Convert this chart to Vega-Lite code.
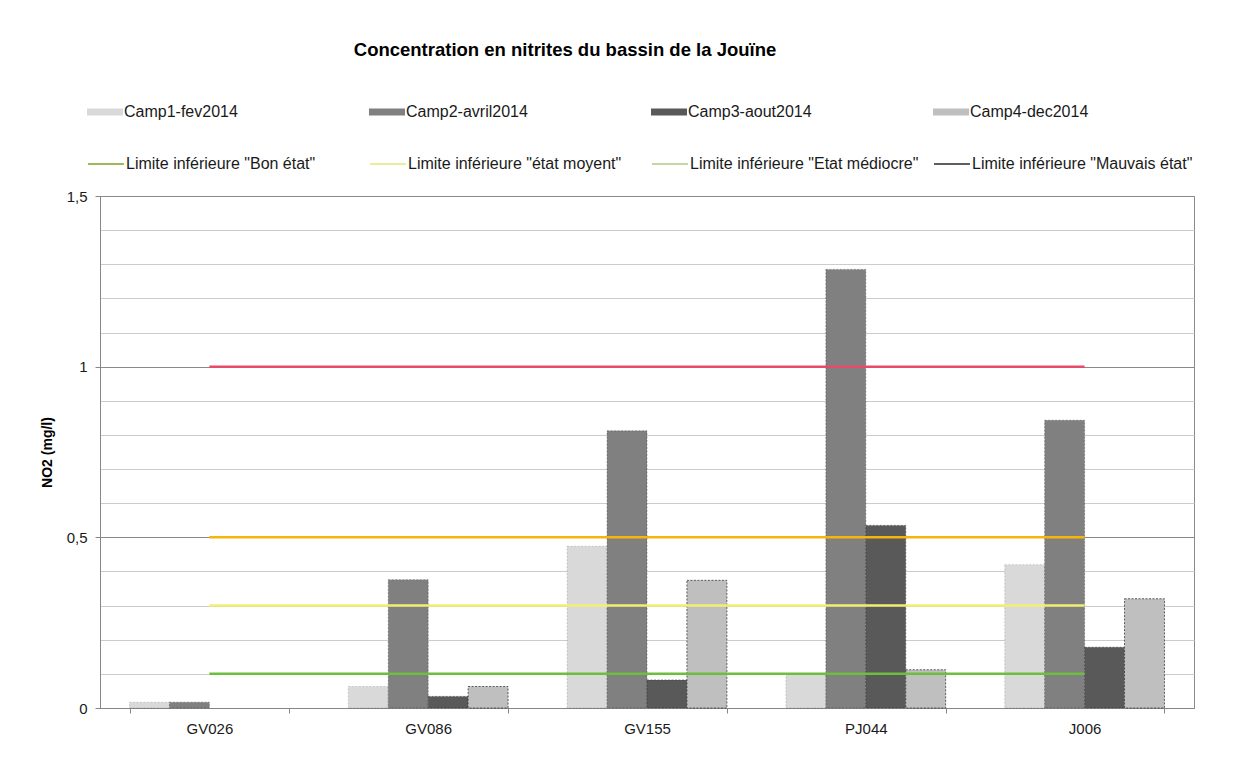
{
  "$schema": "https://vega.github.io/schema/vega-lite/v6.json",
  "autosize": {"type": "none"},
  "padding": {"left": 100, "top": 196, "right": 57, "bottom": 50},
  "width": 1094,
  "height": 512,
  "background": "white",
  "title": {
    "text": "Concentration en nitrites du bassin de la Jouïne",
    "font": "Liberation Sans",
    "fontSize": 18.5,
    "fontWeight": "bold",
    "color": "#000000",
    "anchor": "middle",
    "frame": "group",
    "dx": -82,
    "offset": 35
  },
  "datasets": {
    "mesures": [
      {"site": "GV026", "campagne": "Camp1-fev2014", "no2": 0.017},
      {"site": "GV026", "campagne": "Camp2-avril2014", "no2": 0.017},
      {"site": "GV086", "campagne": "Camp1-fev2014", "no2": 0.063},
      {"site": "GV086", "campagne": "Camp2-avril2014", "no2": 0.376},
      {"site": "GV086", "campagne": "Camp3-aout2014", "no2": 0.034},
      {"site": "GV086", "campagne": "Camp4-dec2014", "no2": 0.063},
      {"site": "GV155", "campagne": "Camp1-fev2014", "no2": 0.474},
      {"site": "GV155", "campagne": "Camp2-avril2014", "no2": 0.812},
      {"site": "GV155", "campagne": "Camp3-aout2014", "no2": 0.082},
      {"site": "GV155", "campagne": "Camp4-dec2014", "no2": 0.374},
      {"site": "PJ044", "campagne": "Camp1-fev2014", "no2": 0.1},
      {"site": "PJ044", "campagne": "Camp2-avril2014", "no2": 1.285},
      {"site": "PJ044", "campagne": "Camp3-aout2014", "no2": 0.535},
      {"site": "PJ044", "campagne": "Camp4-dec2014", "no2": 0.112},
      {"site": "J006", "campagne": "Camp1-fev2014", "no2": 0.42},
      {"site": "J006", "campagne": "Camp2-avril2014", "no2": 0.843},
      {"site": "J006", "campagne": "Camp3-aout2014", "no2": 0.178},
      {"site": "J006", "campagne": "Camp4-dec2014", "no2": 0.32}
    ],
    "limites": [
      {"site": "GV026", "limite": "Limite inférieure \"Bon état\"", "seuil": 0.1},
      {"site": "GV086", "limite": "Limite inférieure \"Bon état\"", "seuil": 0.1},
      {"site": "GV155", "limite": "Limite inférieure \"Bon état\"", "seuil": 0.1},
      {"site": "PJ044", "limite": "Limite inférieure \"Bon état\"", "seuil": 0.1},
      {"site": "J006", "limite": "Limite inférieure \"Bon état\"", "seuil": 0.1},
      {"site": "GV026", "limite": "Limite inférieure \"état moyent\"", "seuil": 0.3},
      {"site": "GV086", "limite": "Limite inférieure \"état moyent\"", "seuil": 0.3},
      {"site": "GV155", "limite": "Limite inférieure \"état moyent\"", "seuil": 0.3},
      {"site": "PJ044", "limite": "Limite inférieure \"état moyent\"", "seuil": 0.3},
      {"site": "J006", "limite": "Limite inférieure \"état moyent\"", "seuil": 0.3},
      {"site": "GV026", "limite": "Limite inférieure \"Etat médiocre\"", "seuil": 0.5},
      {"site": "GV086", "limite": "Limite inférieure \"Etat médiocre\"", "seuil": 0.5},
      {"site": "GV155", "limite": "Limite inférieure \"Etat médiocre\"", "seuil": 0.5},
      {"site": "PJ044", "limite": "Limite inférieure \"Etat médiocre\"", "seuil": 0.5},
      {"site": "J006", "limite": "Limite inférieure \"Etat médiocre\"", "seuil": 0.5},
      {"site": "GV026", "limite": "Limite inférieure \"Mauvais état\"", "seuil": 1},
      {"site": "GV086", "limite": "Limite inférieure \"Mauvais état\"", "seuil": 1},
      {"site": "GV155", "limite": "Limite inférieure \"Mauvais état\"", "seuil": 1},
      {"site": "PJ044", "limite": "Limite inférieure \"Mauvais état\"", "seuil": 1},
      {"site": "J006", "limite": "Limite inférieure \"Mauvais état\"", "seuil": 1}
    ]
  },
  "encoding": {
    "x": {
      "field": "site",
      "type": "nominal",
      "sort": ["GV026", "GV086", "GV155", "PJ044", "J006"],
      "scale": {"paddingInner": 0.27, "paddingOuter": 0.135},
      "axis": {
        "title": null,
        "labelAngle": 0,
        "labelFont": "Liberation Sans",
        "labelFontSize": 15,
        "labelColor": "#1a1a1a",
        "labelPadding": 8,
        "tickBand": "extent",
        "tickSize": 5,
        "tickColor": "#868686",
        "domainColor": "#868686",
        "grid": false
      }
    }
  },
  "layer": [
    {
      "data": {"name": "mesures"},
      "mark": {"type": "bar", "stroke": "#3a3a3a", "strokeWidth": 1, "strokeDash": [2, 1.5]},
      "encoding": {
        "xOffset": {
          "field": "campagne",
          "type": "nominal",
          "scale": {
            "domain": ["Camp1-fev2014", "Camp2-avril2014", "Camp3-aout2014", "Camp4-dec2014"],
            "paddingInner": 0,
            "paddingOuter": 0
          }
        },
        "y": {
          "field": "no2",
          "type": "quantitative",
          "scale": {"domain": [0, 1.5], "nice": false},
          "axis": {
            "orient": "left",
            "title": "NO2 (mg/l)",
            "titleFont": "Liberation Sans",
            "titleFontSize": 14,
            "titleFontWeight": "bold",
            "titleColor": "#000000",
            "titlePadding": 12,
            "values": [0, 0.5, 1, 1.5],
            "format": "~g",
            "labelOverlap": false,
            "labelFlush": false,
            "labelFont": "Liberation Sans",
            "labelFontSize": 15,
            "labelColor": "#1a1a1a",
            "labelPadding": 8,
            "tickSize": 5,
            "tickColor": "#868686",
            "domainColor": "#868686",
            "grid": true,
            "gridColor": "#8a8a8a",
            "gridWidth": 1
          }
        },
        "fill": {
          "field": "campagne",
          "type": "nominal",
          "scale": {
            "domain": ["Camp1-fev2014", "Camp2-avril2014", "Camp3-aout2014", "Camp4-dec2014"],
            "range": ["#d9d9d9", "#808080", "#595959", "#bfbfbf"]
          },
          "legend": {
            "title": null,
            "orient": "none",
            "legendX": -13,
            "legendY": -102,
            "direction": "horizontal",
            "columns": 4,
            "gridAlign": "all",
            "columnPadding": 121,
            "symbolType": "M-1,-0.19H1V0.19H-1Z",
            "symbolSize": 1296,
            "symbolStrokeWidth": 0,
            "labelFont": "Liberation Sans",
            "labelFontSize": 16,
            "labelColor": "#1a1a1a",
            "labelOffset": 1,
            "labelLimit": 400
          }
        },
        "strokeOpacity": {
          "field": "campagne",
          "type": "nominal",
          "scale": {
            "domain": ["Camp1-fev2014", "Camp2-avril2014", "Camp3-aout2014", "Camp4-dec2014"],
            "range": [0.2, 0.8, 0, 0.6]
          },
          "legend": null
        }
      }
    },
    {
      "data": {"name": "limites"},
      "mark": {"type": "line", "strokeWidth": 2.5},
      "encoding": {
        "y": {
          "field": "seuil",
          "type": "quantitative",
          "axis": {
            "orient": "left",
            "title": null,
            "values": [0.1, 0.2, 0.3, 0.4, 0.6, 0.7, 0.8, 0.9, 1.1, 1.2, 1.3, 1.4],
            "labels": false,
            "ticks": false,
            "domain": false,
            "grid": true,
            "gridColor": "#cccccc",
            "gridWidth": 1
          }
        },
        "stroke": {
          "field": "limite",
          "type": "nominal",
          "scale": {"range": ["#6cbf3c", "#f5b50a", "#e84a6a", "#f2ee74"]},
          "legend": null
        }
      }
    },
    {
      "data": {"name": "limites"},
      "mark": {"type": "line", "strokeWidth": 2, "opacity": 0},
      "encoding": {
        "y": {"field": "seuil", "type": "quantitative", "axis": null},
        "color": {
          "field": "limite",
          "type": "nominal",
          "scale": {
            "domain": [
              "Limite inférieure \"Bon état\"",
              "Limite inférieure \"état moyent\"",
              "Limite inférieure \"Etat médiocre\"",
              "Limite inférieure \"Mauvais état\""
            ],
            "range": ["#9bbb59", "#e8ec9c", "#c6d5a6", "#5f5f5f"]
          },
          "legend": {
            "title": null,
            "orient": "none",
            "legendX": -13,
            "legendY": -51,
            "direction": "horizontal",
            "columns": 4,
            "gridAlign": "all",
            "columnPadding": 11,
            "symbolType": "M-1,0H1",
            "symbolSize": 1296,
            "symbolStrokeWidth": 2,
            "symbolOpacity": 1,
            "labelFont": "Liberation Sans",
            "labelFontSize": 16,
            "labelColor": "#1a1a1a",
            "labelOffset": 1,
            "labelLimit": 400
          }
        }
      }
    }
  ],
  "resolve": {"axis": {"y": "independent"}},
  "config": {
    "locale": {
      "number": {"decimal": ",", "thousands": " ", "grouping": [3], "currency": ["", " €"]}
    },
    "view": {"stroke": "#8a8a8a", "strokeWidth": 1}
  }
}
